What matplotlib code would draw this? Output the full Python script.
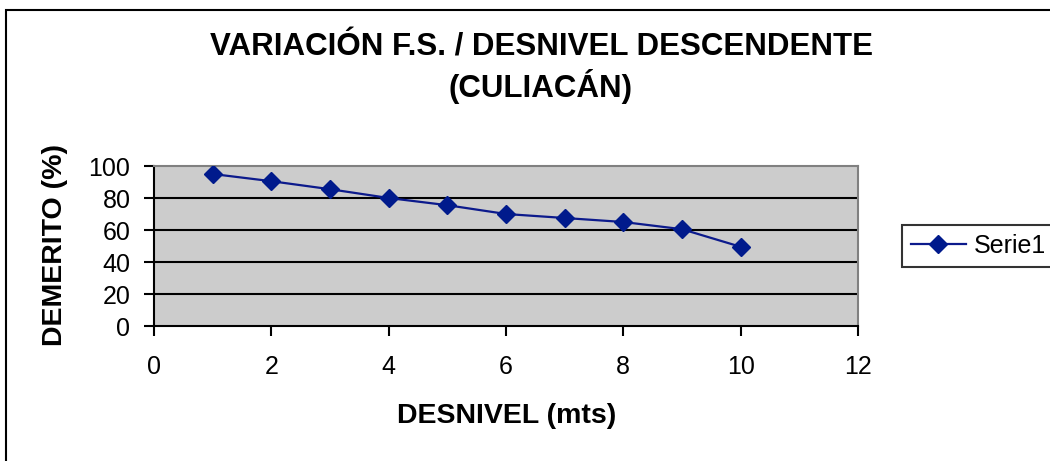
import matplotlib
matplotlib.use("Agg")
import matplotlib.pyplot as plt
from matplotlib.patches import Rectangle

plt.rcParams['font.family'] = ['Liberation Sans', 'DejaVu Sans']

desnivel = [1, 2, 3, 4, 5, 6, 7, 8, 9, 10]
demerito = [95, 90.5, 85.5, 80, 75.5, 70, 67.5, 65, 60.5, 49.5]
series_name = "Serie1"
title = "VARIACIÓN F.S. / DESNIVEL DESCENDENTE\n(CULIACÁN)"
xlabel = "DESNIVEL (mts)"
ylabel = "DEMERITO (%)"
xticks = [0, 2, 4, 6, 8, 10, 12]
yticks = [0, 20, 40, 60, 80, 100]

W, H = 1050, 461
fig = plt.figure(figsize=(W / 100, H / 100), dpi=100)
fig.patch.set_facecolor("white")

# chart area border (extends beyond right/bottom edges)
fig.add_artist(Rectangle((6 / W, -0.05), 1.2, 1 - 10 / H + 0.05, transform=fig.transFigure,
                         fill=False, edgecolor="black", linewidth=1.5))

ax = fig.add_axes([154 / W, 1 - 326 / H, (858 - 154) / W, (326 - 166) / H])
ax.set_facecolor("#cccccc")
ax.plot(desnivel, demerito, color="#0c1a8c", linewidth=1.6, marker="D",
        markersize=9, markerfacecolor="#001a8c", markeredgecolor="#001a8c",
        label=series_name, zorder=3)
ax.set_xlim(0, 12)
ax.set_ylim(0, 100)
ax.set_xticks(xticks)
ax.set_yticks(yticks)
for y in yticks[1:-1]:
    ax.axhline(y, color="black", linewidth=1.5, zorder=1)
ax.spines['left'].set_color("black")
ax.spines['bottom'].set_color("black")
ax.spines['left'].set_linewidth(1.5)
ax.spines['bottom'].set_linewidth(1.5)
ax.spines['top'].set_color("#808080")
ax.spines['right'].set_color("#808080")
ax.spines['top'].set_linewidth(1.5)
ax.spines['right'].set_linewidth(1.5)
ax.tick_params(axis='both', direction='out', length=7, width=1.5, colors="black",
               labelsize=18)
ax.tick_params(axis='x', pad=14)
ax.tick_params(axis='y', pad=10)

fig.text(541 / W, 1 - 68.5 / H, title, ha="center", va="center", fontsize=22.5,
         fontweight="bold", linespacing=1.22)
fig.text(507 / W, 1 - 416 / H, xlabel, ha="center", va="center", fontsize=20.5,
         fontweight="bold")
fig.text(55 / W, 1 - 245 / H, ylabel, ha="center", va="center", fontsize=20.5,
         fontweight="bold", rotation=90)

leg = fig.legend(loc="center left", bbox_to_anchor=(902 / W, 1 - 246 / H),
                 fontsize=18, frameon=True, fancybox=False, edgecolor="black",
                 handlelength=2.2, borderpad=0.35, handletextpad=0.33,
                 borderaxespad=0)
leg.get_frame().set_linewidth(1.5)

fig.savefig("out.png", dpi=100)
